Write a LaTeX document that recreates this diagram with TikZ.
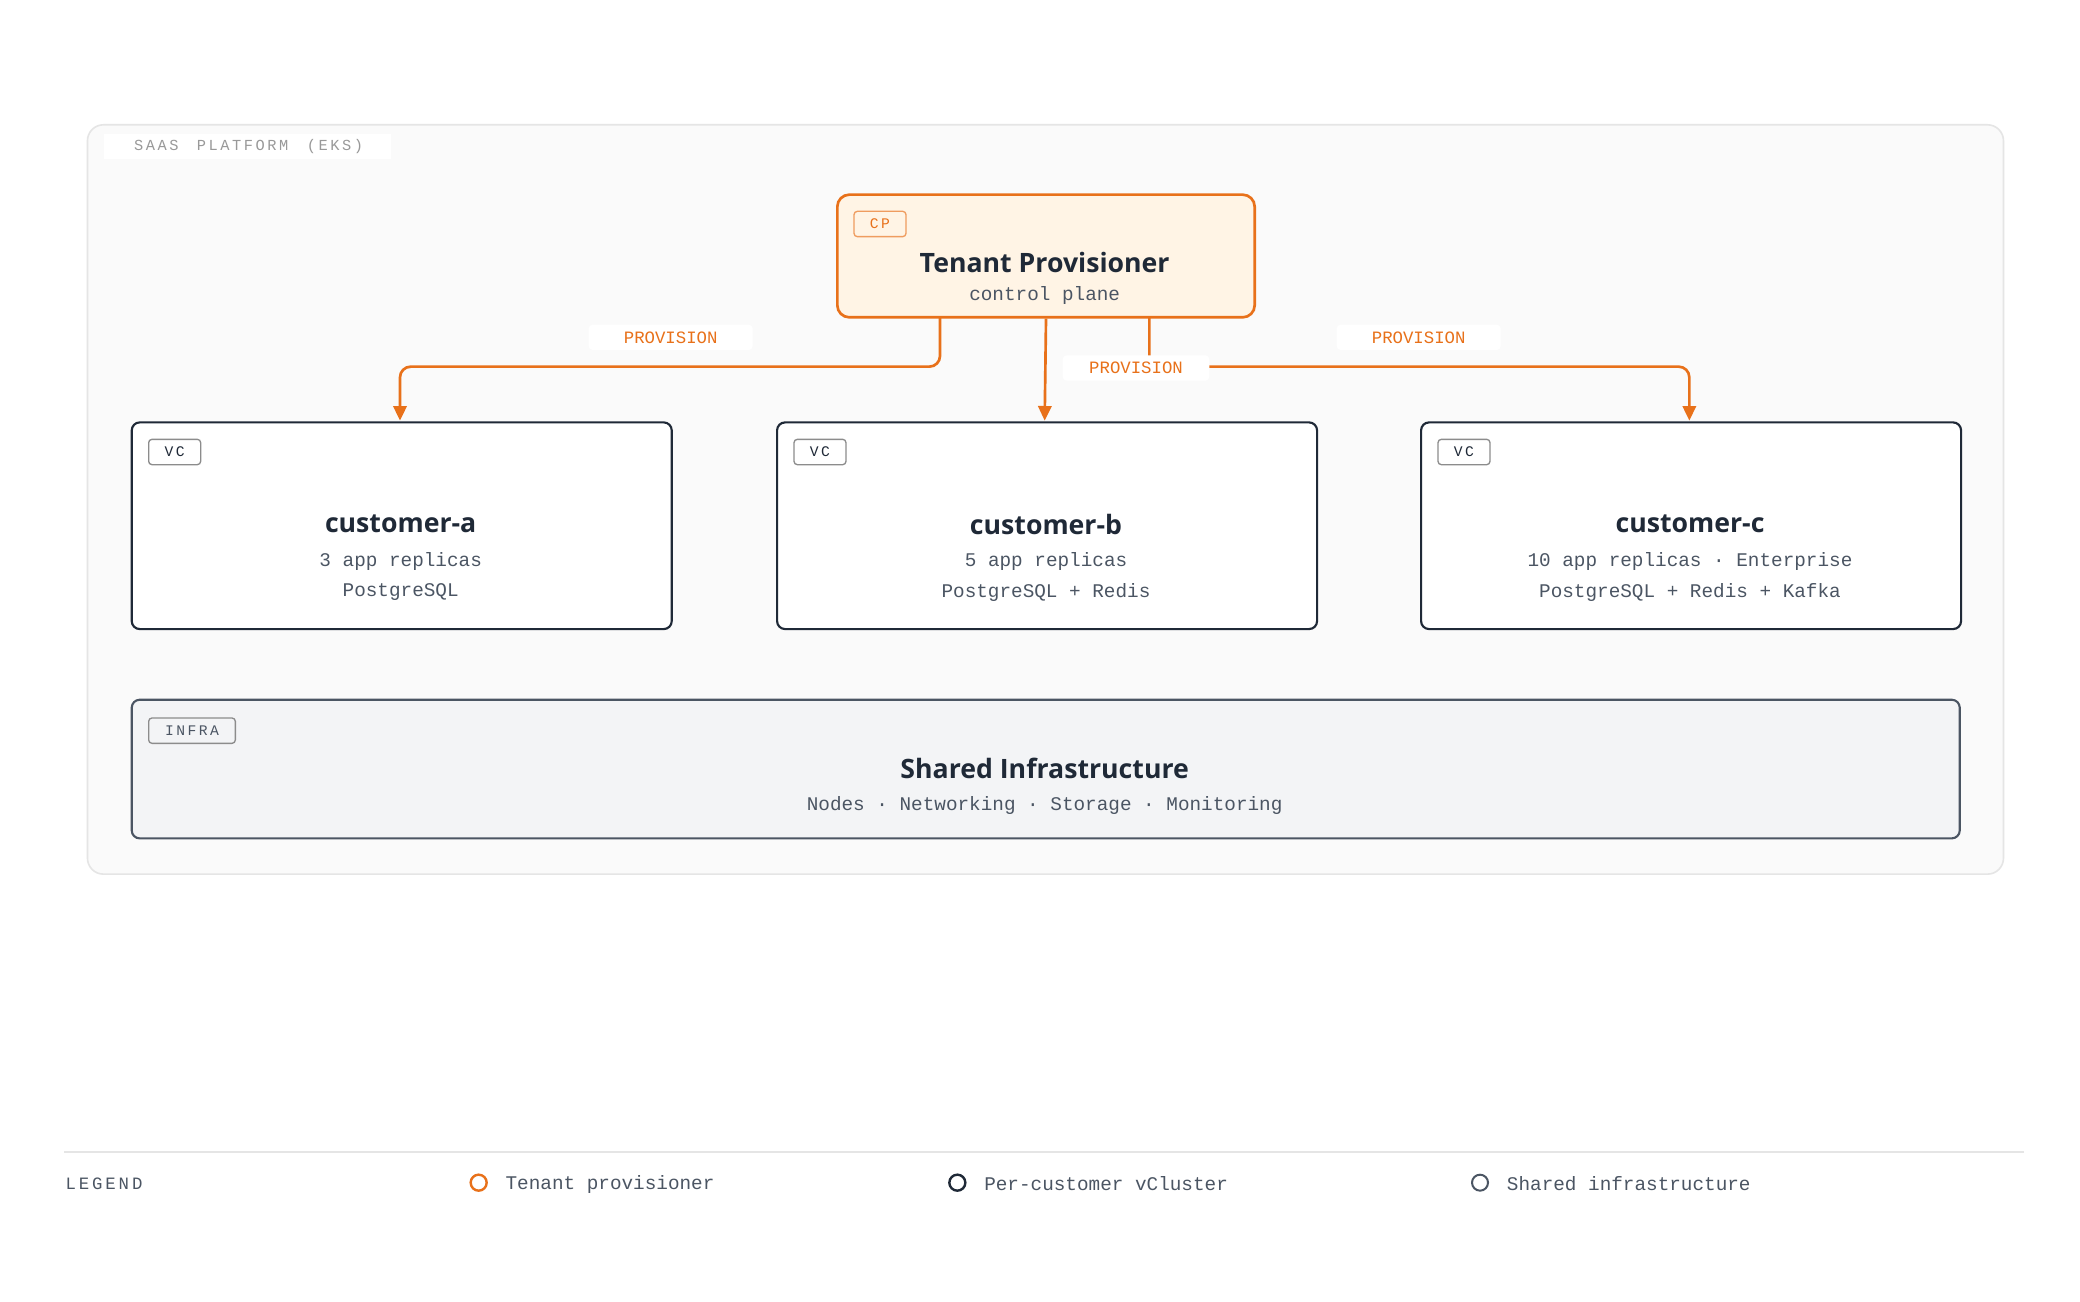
\documentclass[tikz,border=0pt]{standalone}
\usepackage{fontspec}
\setmainfont{Open Sans}
\setmonofont{Liberation Mono}
\usetikzlibrary{arrows.meta}
\definecolor{org}{HTML}{E8711A}
\definecolor{dark}{HTML}{1F2937}
\definecolor{txt}{HTML}{4B5563}
\definecolor{frame}{HTML}{E5E5E5}
\definecolor{orgfill}{HTML}{FFF4E5}
\definecolor{infrafill}{HTML}{F3F4F6}
\begin{document}
\begin{tikzpicture}[x=1pt,y=-1pt,
  tag/.style={draw=#1,rounded corners=2.5,line width=1,font=\ttfamily\fontsize{11}{11}\selectfont,text=#1,inner sep=0,minimum height=19,anchor=north west},
  title/.style={font=\bfseries\fontsize{20}{20}\selectfont,text=dark},
  sub/.style={font=\ttfamily\fontsize{14.5}{14.5}\selectfont,text=txt},
  lab/.style={fill=white,rounded corners=3,text=org,font=\ttfamily\fontsize{13}{13}\selectfont,minimum width=123,minimum height=19,inner sep=0},
  conn/.style={draw=org,line width=2,rounded corners=8,-{Triangle[length=11,width=10]}},
  box/.style={draw=dark,line width=1.6,fill=white,rounded corners=6}]
\useasboundingbox (0,0) rectangle (1560,976);
\fill[white] (0,0) rectangle (1560,976);
\node[draw=frame,fill=black!2,line width=1.2,rounded corners=12,minimum width=1437,minimum height=562,inner sep=0,anchor=north west] (outer) at (65,93) {};
\node[fill=white,minimum width=215,minimum height=19,inner sep=0,anchor=north west] (pl) at (78,100) {};
\node[anchor=west,text=black!40,font=\ttfamily\fontsize{11.5}{11.5}\selectfont] (plt) at (97,110) {S\,A\,A\,S\ \ P\,L\,A\,T\,F\,O\,R\,M\ \ (\,E\,K\,S\,)};
% CP
\node[draw=org,fill=orgfill,line width=2,rounded corners=9,minimum width=313,minimum height=92,inner sep=0,anchor=north west] (cp) at (627,145) {};
\node[tag=org!70,text=org,minimum width=39] (cptag) at (640,158) {C\,P};
\node[title] (cpt) at (783.5,197) {Tenant Provisioner};
\node[sub] (cps) at (783.5,222) {control plane};
% customers
\foreach \n/\x/\a/\b in {a/98/3 app replicas/PostgreSQL, b/582/5 app replicas/PostgreSQL + Redis, c/1065/10 app replicas · Enterprise/PostgreSQL + Redis + Kafka}{
  \node[box,minimum width=405,minimum height=155,inner sep=0,anchor=north west] (c\n) at (\x,316) {};
  \node[tag=black!45,text=dark,minimum width=39] (vc\n) at (\x+13,329) {V\,C};
  \node[title] (ct\n) at (\x+202.5,393) {customer-\n};
  \node[sub] (cl\n) at (\x+202.5,421) {\a};
  \node[sub] (cm\n) at (\x+202.5,444) {\b};
}
% infra
\node[draw=txt,fill=infrafill,line width=1.6,rounded corners=6,minimum width=1371,minimum height=104,inner sep=0,anchor=north west] (infra) at (98,524) {};
\node[tag=black!45,text=txt,minimum width=65] (itag) at (111,538) {I\,N\,F\,R\,A};
\node[title] (it) at (783.5,576) {Shared Infrastructure};
\node[sub] (is) at (783.5,604) {Nodes · Networking · Storage · Monitoring};
% connectors
\coordinate (s1) at (705,237.5);
\coordinate (s3) at (862,237.5);
\draw[conn] (s1) -- (705,275) -- (300,275) -- (300,315.5);
\draw[conn] (cp.south) -- (783.5,315.5);
\draw[conn] (s3) -- (862,275) -- (1267,275) -- (1267,315.5);
\node[lab] (l1) at (503,253) {PROVISION};
\node[lab,minimum width=110] (l2) at (852,276) {PROVISION};
\node[lab] (l3) at (1064,253) {PROVISION};
% legend
\draw[frame,line width=1] (48,864) -- (1518,864);
\node[anchor=west,text=txt,font=\ttfamily\fontsize{13}{13}\selectfont,inner sep=0] (lg) at (49,888) {L\,E\,G\,E\,N\,D};
\node[draw=org,line width=1.8,circle,minimum size=12,inner sep=0] (o1) at (359,887) {};
\node[draw=dark,line width=1.8,circle,minimum size=12,inner sep=0] (o2) at (718,887) {};
\node[draw=txt,line width=1.5,circle,minimum size=12,inner sep=0] (o3) at (1110,887) {};
\foreach \i/\x/\t in {1/379/Tenant provisioner,2/738/Per-customer vCluster,3/1130/Shared infrastructure}
  \node[anchor=west,inner sep=0,text=txt,font=\ttfamily\fontsize{14.5}{14.5}\selectfont] (lt\i) at (\x,888) {\t};
\end{tikzpicture}
\end{document}
